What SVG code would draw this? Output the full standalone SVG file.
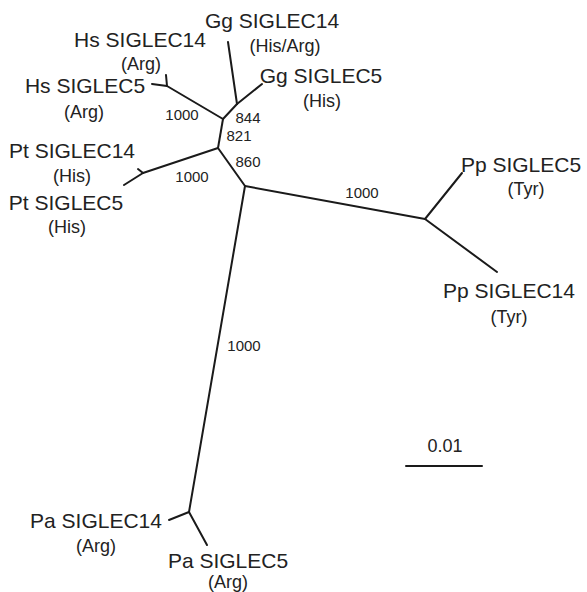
<svg xmlns="http://www.w3.org/2000/svg" width="587" height="592" viewBox="0 0 587 592">
<style>
.e{stroke:#1a1a1a;stroke-width:2;fill:none;stroke-linecap:round;stroke-linejoin:round}
.l{font-family:"Liberation Sans",Arial,sans-serif;font-size:21px;fill:#222;text-anchor:middle}
.s{font-family:"Liberation Sans",Arial,sans-serif;font-size:18px;fill:#222;text-anchor:middle}
.b{font-family:"Liberation Sans",Arial,sans-serif;font-size:15px;fill:#222;text-anchor:middle}
</style>
<rect width="587" height="592" fill="#fff"/>
<g id="connectors">
<polyline class="e" points="152,84 167,86 166,75"/>
<line class="e" x1="167" y1="86" x2="223" y2="119"/>
<line class="e" x1="228" y1="42" x2="237" y2="104"/>
<line class="e" x1="262" y1="84" x2="237" y2="104"/>
<line class="e" x1="237" y1="104" x2="223" y2="119"/>
<line class="e" x1="223" y1="119" x2="218" y2="148"/>
<line class="e" x1="218" y1="148" x2="143" y2="173"/>
<polyline class="e" points="138,169 143,173 124,185"/>
<line class="e" x1="218" y1="148" x2="245" y2="186"/>
<line class="e" x1="245" y1="186" x2="425" y2="219"/>
<line class="e" x1="425" y1="219" x2="462" y2="173"/>
<line class="e" x1="425" y1="219" x2="497" y2="272"/>
<line class="e" x1="245" y1="186" x2="189" y2="512"/>
<line class="e" x1="169" y1="520" x2="189" y2="512"/>
<line class="e" x1="189" y1="512" x2="207" y2="545"/>
<line class="e" x1="406" y1="466" x2="482" y2="466"/>
</g>
<g id="bootstrap">
<text class="b" x="182" y="120">1000</text>
<text class="b" x="248" y="123">844</text>
<text class="b" x="239" y="141">821</text>
<text class="b" x="248" y="167">860</text>
<text class="b" x="192" y="182">1000</text>
<text class="b" x="362" y="198">1000</text>
<text class="b" x="244" y="351">1000</text>
</g>
<g id="gg14"><text class="l" x="272" y="28">Gg SIGLEC14</text><text class="s" x="285" y="52">(His/Arg)</text></g>
<g id="gg5"><text class="l" x="321" y="83">Gg SIGLEC5</text><text class="s" x="322" y="107">(His)</text></g>
<g id="hs14"><text class="l" x="140" y="47">Hs SIGLEC14</text><text class="s" x="141" y="70">(Arg)</text></g>
<g id="hs5"><text class="l" x="85" y="93">Hs SIGLEC5</text><text class="s" x="84" y="118">(Arg)</text></g>
<g id="pt14"><text class="l" x="72" y="158">Pt SIGLEC14</text><text class="s" x="72" y="182">(His)</text></g>
<g id="pt5"><text class="l" x="66" y="210">Pt SIGLEC5</text><text class="s" x="67" y="233">(His)</text></g>
<g id="pp5"><text class="l" x="521" y="172">Pp SIGLEC5</text><text class="s" x="526" y="195">(Tyr)</text></g>
<g id="pp14"><text class="l" x="509" y="298">Pp SIGLEC14</text><text class="s" x="509" y="323">(Tyr)</text></g>
<g id="pa14"><text class="l" x="96" y="528">Pa SIGLEC14</text><text class="s" x="96" y="552">(Arg)</text></g>
<g id="pa5"><text class="l" x="228" y="568">Pa SIGLEC5</text><text class="s" x="228" y="588">(Arg)</text></g>
<g id="scale"><text class="s" x="445" y="452">0.01</text></g>
</svg>
